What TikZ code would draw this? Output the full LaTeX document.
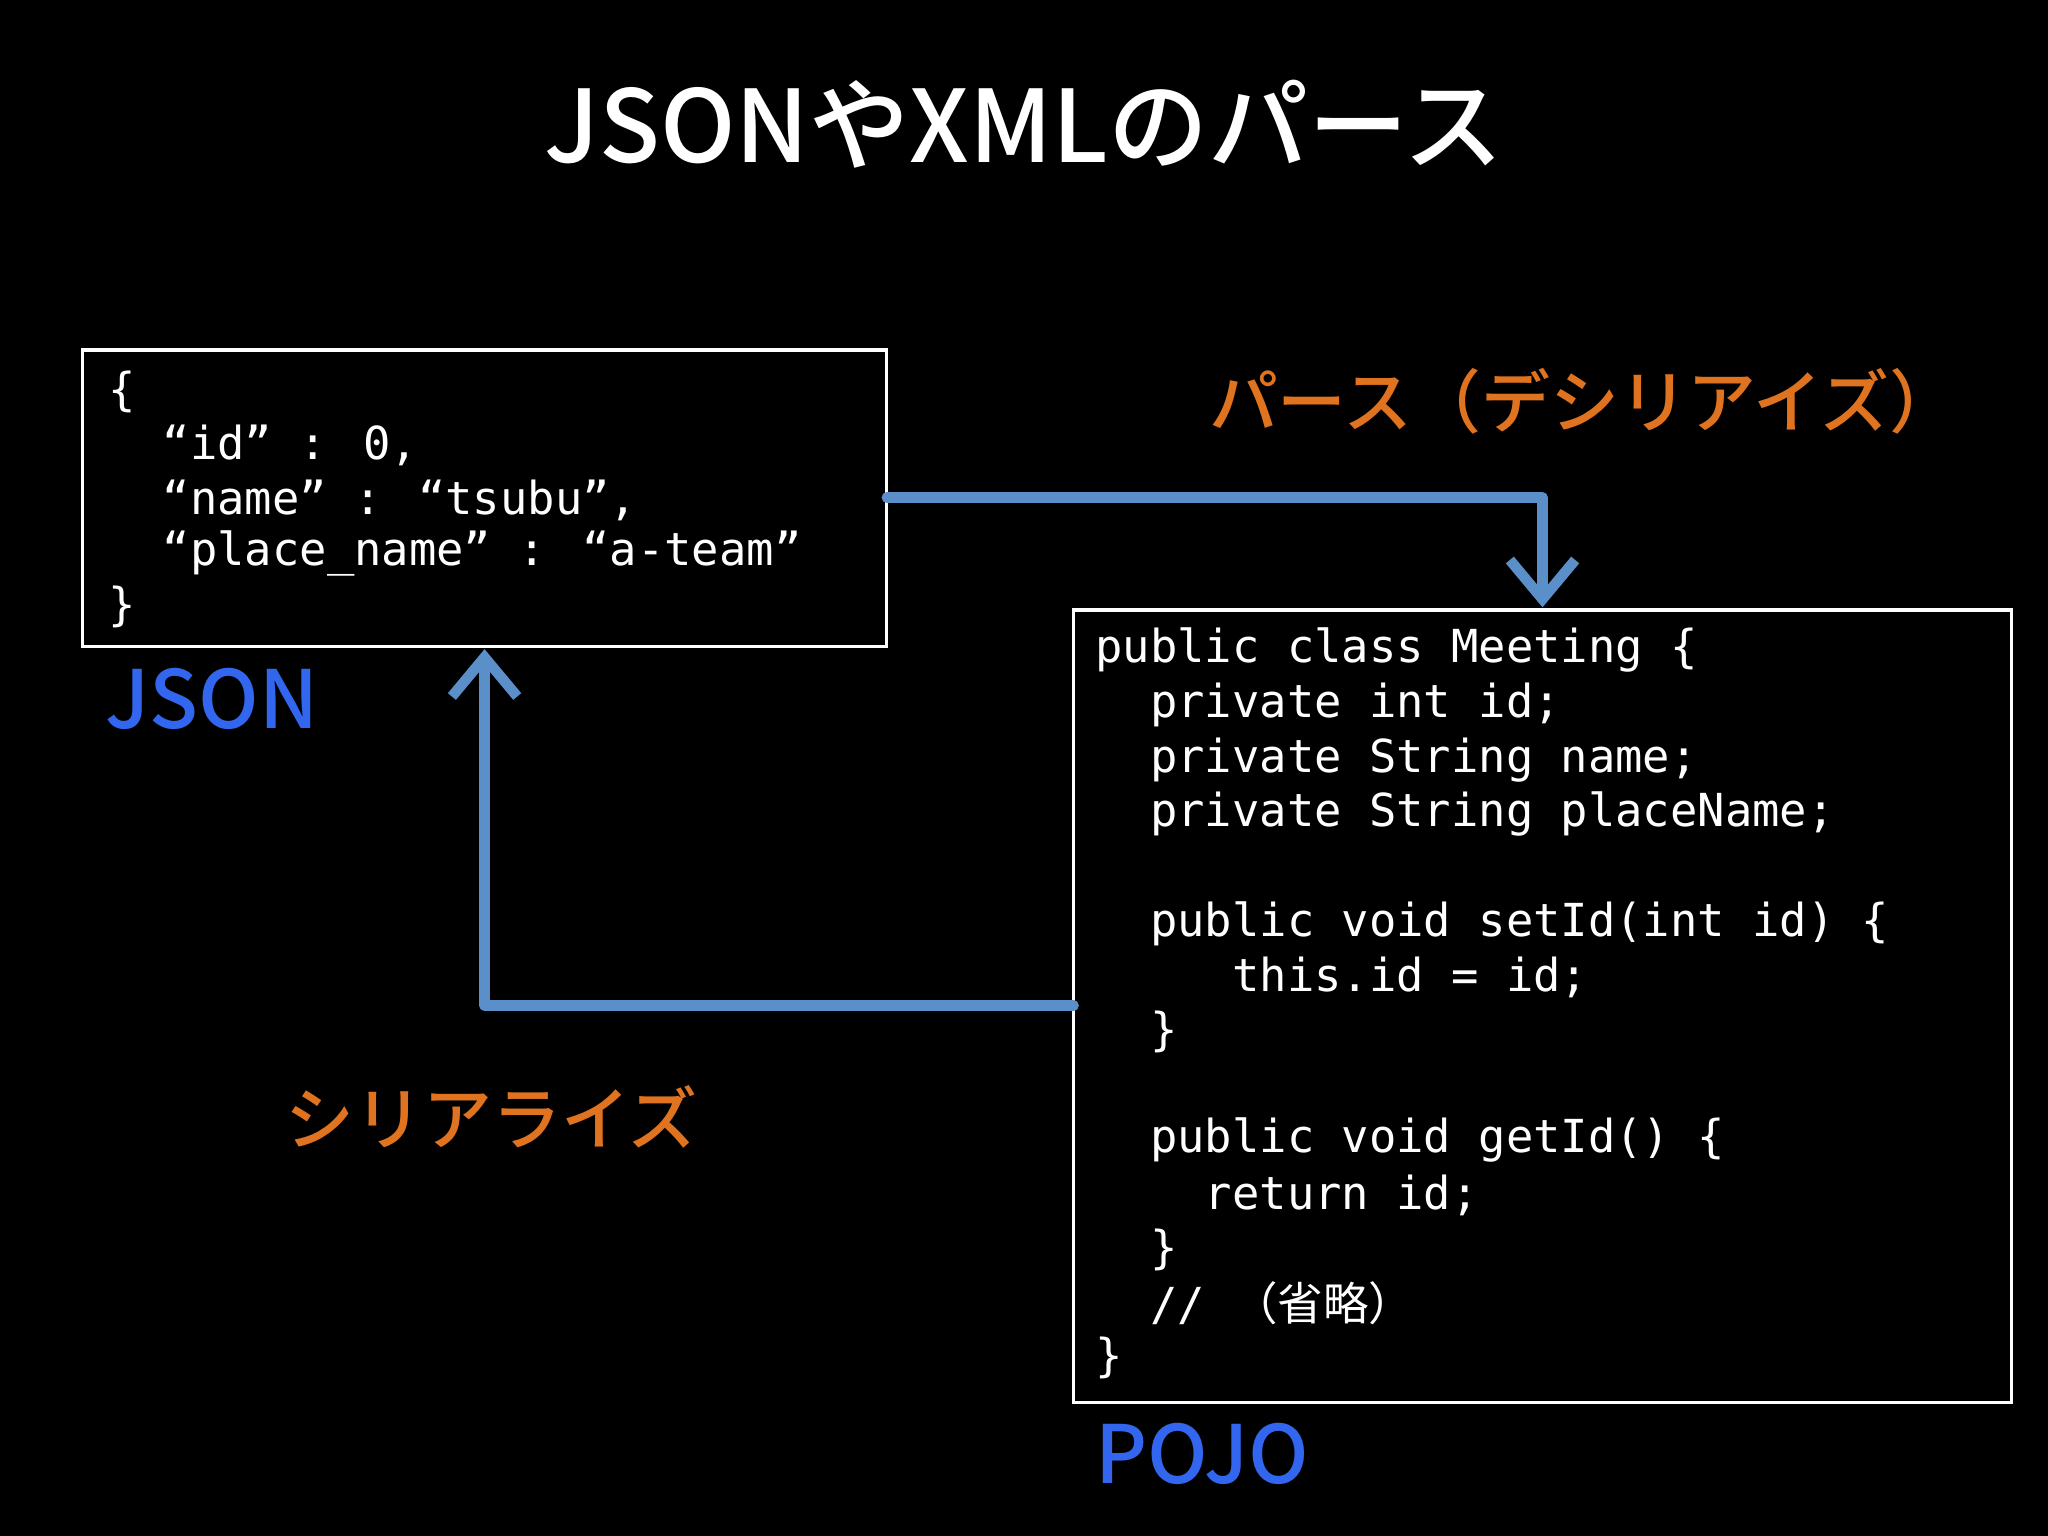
\documentclass[tikz,border=0pt]{standalone}
\usepackage{fontspec}
\setmainfont{Noto Sans CJK JP}[BoldFont={* Bold}]
\newfontfamily\cjk{Noto Sans CJK JP}
\newfontfamily\medfont{Noto Sans CJK JP Medium}
\newfontfamily\codefont{DejaVu Sans Mono}
\usetikzlibrary{arrows.meta}
\definecolor{arrowblue}{HTML}{5B8FC9}
\definecolor{lblue}{HTML}{3366EE}
\definecolor{lorange}{HTML}{E0731F}
\tikzset{
  codebox/.style={draw=white,line width=0.7pt},
  codeline/.style={anchor=west,inner sep=0pt,text=white,font=\codefont\fontsize{9.9}{11.8}\selectfont},
  flow/.style={draw=arrowblue,line width=0.08cm,line cap=round,line join=round,-{Straight Barb[length=0.3cm,width=0.5cm,line width=0.08cm]}},
  tag/.style={inner sep=0pt,text=lblue,font=\medfont\fontsize{17.5}{20}\selectfont},
  act/.style={inner sep=0pt,text=lorange,font=\medfont\fontsize{15}{16}\selectfont},
}
\begin{document}
\begin{tikzpicture}[x=0.01cm,y=-0.01cm]
\fill[black] (0,0) rectangle (1568,1176);
\node[inner sep=0pt,text=white,font=\medfont\fontsize{21.8}{26}\selectfont] (title) at (784,95) {JSONやXMLのパース};
\draw[codebox] (63,268) rectangle (679,495);
\coordinate (jsonR) at (679,381);
\coordinate (jsonB) at (371,497);
\node[codeline] (j1) at (82,300) {\{};
\node[codeline] (j2) at (82,341) {\ \ “id” : 0,};
\node[codeline] (j3) at (82,383) {\ \ “name” : “tsubu”,};
\node[codeline] (j4) at (82,424) {\ \ “place\_name” : “a-team”};
\node[codeline] (j5) at (82,465) {\}};
\node[tag,anchor=west] (jl) at (80,535) {JSON};
\draw[codebox] (822,467) rectangle (1540,1074);
\coordinate (pojoT) at (1181,465);
\coordinate (pojoL) at (822,770);
\node[codeline] (p1) at (838,498) {public class Meeting \{};
\node[codeline] (p2) at (838,540) {\ \ private int id;};
\node[codeline] (p3) at (838,582) {\ \ private String name;};
\node[codeline] (p4) at (838,623) {\ \ private String placeName;};
\node[codeline] (p5) at (838,707) {\ \ public void setId(int id) \{};
\node[codeline] (p6) at (838,748) {\ \ \ \ \ this.id = id;};
\node[codeline] (p7) at (838,790) {\ \ \}};
\node[codeline] (p8) at (838,873) {\ \ public void getId() \{};
\node[codeline] (p9) at (838,915) {\ \ \ \ return id;};
\node[codeline] (p10) at (838,957) {\ \ \}};
\node[codeline] (p11) at (838,998) {\ \ // {\cjk （省略）}};
\node[codeline] (p12) at (838,1040) {\}};
\node[tag,anchor=west] (pl) at (838,1113) {POJO};
\node[act,anchor=west] (parse) at (925,307) {パース（デシリアイズ）};
\node[act,anchor=west] (ser) at (218,855) {シリアライズ};
\draw[flow] (jsonR) -- (1181,381) -- (pojoT);
\draw[flow] (pojoL) -- (371,770) -- (jsonB);
\end{tikzpicture}
\end{document}
